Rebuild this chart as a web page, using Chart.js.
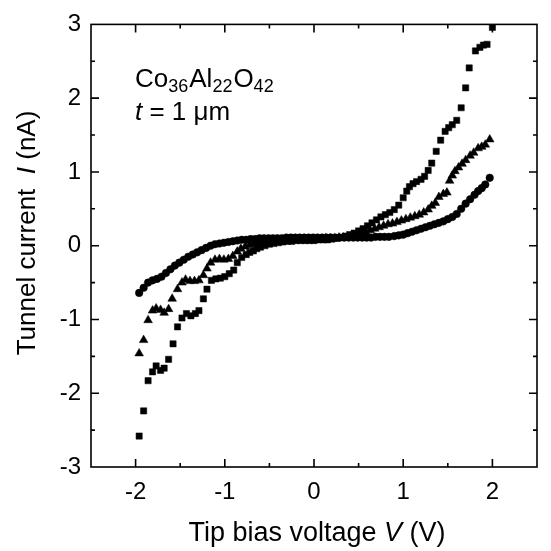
<!DOCTYPE html>
<html><head><meta charset="utf-8">
<script src="https://cdn.jsdelivr.net/npm/chart.js@4/dist/chart.umd.min.js"></script>
<style>html,body{margin:0;padding:0;background:#fff}#wrap{width:551px;height:551px;position:relative}</style>
</head><body><div id="wrap"><canvas id="c" width="551" height="551"></canvas></div>
<script>
// Tick values
const xTicks = [-2, -1, 0, 1, 2];
const yTicks = [-3, -2, -1, 0, 1, 2, 3];

// Series 1: squares
const sqV = [-1.96,-1.91,-1.86,-1.81,-1.77,-1.72,-1.68,-1.63,-1.58,-1.53,-1.48,-1.43,-1.38,-1.33,-1.29,-1.24,-1.20,-1.15,-1.10,-1.05,-1.00,-0.95,-0.90,-0.86,-0.81,-0.76,-0.72,-0.68,-0.64,-0.60,-0.55,-0.50,-0.45,-0.40,-0.35,-0.30,-0.25,-0.20,-0.15,-0.10,-0.05,0.00,0.05,0.10,0.15,0.20,0.25,0.30,0.35,0.40,0.45,0.50,0.55,0.60,0.65,0.70,0.75,0.80,0.85,0.90,0.95,1.00,1.04,1.07,1.11,1.15,1.20,1.24,1.28,1.32,1.37,1.42,1.47,1.51,1.55,1.60,1.65,1.70,1.74,1.81,1.86,1.90,1.94,2.00];
const sqI = [-2.58,-2.24,-1.83,-1.71,-1.63,-1.69,-1.66,-1.54,-1.33,-1.10,-0.98,-0.92,-0.95,-0.92,-0.88,-0.72,-0.59,-0.47,-0.45,-0.44,-0.42,-0.38,-0.33,-0.23,-0.16,-0.12,-0.09,-0.07,-0.04,-0.02,0.00,0.02,0.03,0.04,0.05,0.06,0.06,0.07,0.07,0.07,0.07,0.07,0.08,0.08,0.08,0.09,0.10,0.11,0.13,0.15,0.17,0.20,0.23,0.27,0.31,0.35,0.39,0.42,0.45,0.49,0.55,0.65,0.74,0.80,0.84,0.87,0.90,0.94,1.02,1.12,1.28,1.43,1.55,1.60,1.64,1.70,1.87,2.14,2.41,2.64,2.69,2.72,2.73,2.96];

// Series 2: triangles
const trV = [-1.96,-1.91,-1.86,-1.81,-1.77,-1.72,-1.68,-1.63,-1.59,-1.53,-1.48,-1.44,-1.39,-1.34,-1.29,-1.24,-1.20,-1.16,-1.11,-1.06,-1.01,-0.96,-0.91,-0.86,-0.82,-0.77,-0.72,-0.67,-0.62,-0.57,-0.52,-0.47,-0.42,-0.37,-0.32,-0.27,-0.22,-0.17,-0.12,-0.07,-0.02,0.03,0.08,0.13,0.18,0.23,0.28,0.33,0.38,0.43,0.48,0.53,0.58,0.63,0.68,0.73,0.78,0.83,0.88,0.93,0.98,1.03,1.08,1.13,1.18,1.23,1.28,1.32,1.36,1.40,1.45,1.49,1.52,1.55,1.58,1.62,1.66,1.70,1.75,1.79,1.84,1.88,1.92,1.97];
const trI = [-1.46,-1.28,-1.01,-0.88,-0.85,-0.87,-0.91,-0.86,-0.72,-0.59,-0.50,-0.46,-0.48,-0.48,-0.47,-0.40,-0.31,-0.23,-0.19,-0.18,-0.19,-0.18,-0.14,-0.08,-0.04,-0.01,0.01,0.03,0.04,0.05,0.06,0.07,0.08,0.08,0.09,0.09,0.09,0.09,0.09,0.09,0.09,0.09,0.09,0.10,0.10,0.10,0.11,0.11,0.12,0.13,0.15,0.17,0.19,0.21,0.23,0.25,0.27,0.29,0.30,0.32,0.34,0.36,0.38,0.40,0.42,0.45,0.49,0.54,0.58,0.66,0.70,0.72,0.88,0.95,1.01,1.06,1.11,1.16,1.22,1.26,1.32,1.34,1.37,1.44];

// Series 3: circles
const ciV = [-1.96,-1.91,-1.86,-1.81,-1.76,-1.71,-1.66,-1.61,-1.56,-1.51,-1.46,-1.41,-1.36,-1.31,-1.26,-1.21,-1.16,-1.11,-1.06,-1.01,-0.96,-0.91,-0.86,-0.81,-0.76,-0.71,-0.66,-0.61,-0.56,-0.51,-0.46,-0.41,-0.36,-0.31,-0.26,-0.21,-0.16,-0.11,-0.06,-0.01,0.04,0.09,0.14,0.19,0.24,0.29,0.34,0.39,0.44,0.49,0.54,0.59,0.64,0.69,0.74,0.79,0.84,0.90,0.95,1.00,1.05,1.10,1.15,1.20,1.25,1.30,1.35,1.40,1.45,1.50,1.55,1.60,1.65,1.70,1.75,1.80,1.84,1.88,1.92,1.97];
const ciI = [-0.64,-0.57,-0.50,-0.47,-0.45,-0.42,-0.37,-0.32,-0.27,-0.23,-0.19,-0.15,-0.12,-0.09,-0.06,-0.03,0.00,0.02,0.03,0.04,0.05,0.06,0.07,0.08,0.08,0.09,0.09,0.10,0.10,0.10,0.10,0.10,0.10,0.11,0.11,0.11,0.11,0.11,0.11,0.11,0.11,0.11,0.11,0.11,0.11,0.11,0.11,0.11,0.11,0.11,0.11,0.11,0.11,0.12,0.12,0.12,0.12,0.13,0.14,0.15,0.17,0.19,0.21,0.23,0.25,0.27,0.29,0.31,0.33,0.36,0.39,0.43,0.50,0.57,0.63,0.69,0.74,0.78,0.83,0.92];

const FONT = '"Liberation Sans", Arial, Helvetica, sans-serif';
const pts = (vs, is) => vs.map((v, k) => ({x: v, y: is[k]}));
const mids = arr => arr.slice(1).map((v, k) => (v + arr[k]) / 2);

function drawMixed(ctx, parts, x, y, align) {
  let w = 0;
  parts.forEach(p => { ctx.font = p.f; w += ctx.measureText(p.t).width + (p.gap || 0); });
  let cx = align === 'center' ? x - w / 2 : x;
  parts.forEach(p => {
    ctx.font = p.f;
    ctx.fillText(p.t, cx, y + (p.dy || 0));
    cx += ctx.measureText(p.t).width + (p.gap || 0);
  });
}

const decor = {
  id: 'decor',
  afterDraw(chart) {
    const {ctx, chartArea: a, scales: {x, y}} = chart;
    ctx.save();
    ctx.strokeStyle = '#000';
    ctx.lineWidth = 1.6;
    ctx.strokeRect(a.left, a.top, a.right - a.left, a.bottom - a.top);
    const xMinor = mids(xTicks).concat([xTicks[0] - 0.5, xTicks[xTicks.length - 1] + 0.5]);
    const yMinor = mids(yTicks);
    ctx.beginPath();
    const tx = (vals, len) => vals.forEach(v => {
      const p = x.getPixelForValue(v);
      if (p <= a.left + 1 || p >= a.right - 1) return;
      ctx.moveTo(p, a.bottom); ctx.lineTo(p, a.bottom - len);
      ctx.moveTo(p, a.top); ctx.lineTo(p, a.top + len);
    });
    const ty = (vals, len) => vals.forEach(v => {
      const p = y.getPixelForValue(v);
      if (p <= a.top + 1 || p >= a.bottom - 1) return;
      ctx.moveTo(a.left, p); ctx.lineTo(a.left + len, p);
      ctx.moveTo(a.right, p); ctx.lineTo(a.right - len, p);
    });
    tx(xTicks, 8); tx(xMinor, 4); ty(yTicks, 8); ty(yMinor, 4);
    ctx.stroke();

    ctx.fillStyle = '#000';
    ctx.textBaseline = 'alphabetic';
    ctx.textAlign = 'left';
    // x-axis title
    const fX = '27px ' + FONT, fXI = 'italic 27px ' + FONT;
    drawMixed(ctx, [{t: 'Tip bias voltage ', f: fX}, {t: 'V', f: fXI}, {t: ' (V)', f: fX}], (a.left + a.right) / 2 + 3, 541, 'center');
    // y-axis title
    const fT = '26px ' + FONT, fI = 'italic 26px ' + FONT;
    ctx.save();
    ctx.translate(35, 233);
    ctx.rotate(-Math.PI / 2);
    drawMixed(ctx, [{t: 'Tunnel current  ', f: fT}, {t: 'I', f: fI}, {t: ' (nA)', f: fT}], 0, 0, 'center');
    ctx.restore();
    // annotation
    const fA = '26px ' + FONT, fS = '18px ' + FONT, fAI = 'italic 26px ' + FONT;
    drawMixed(ctx, [{t: 'Co', f: fA}, {t: '36', f: fS, dy: 5, gap: 1}, {t: 'Al', f: fA}, {t: '22', f: fS, dy: 5, gap: 1}, {t: 'O', f: fA}, {t: '42', f: fS, dy: 5}], a.left + 44, 87, 'left');
    drawMixed(ctx, [{t: 't', f: fAI}, {t: ' = 1 \u03bcm', f: fA}], a.left + 44, 120, 'left');
    ctx.restore();
  }
};

const ds = (label, vs, is, style, r) => ({
  label, data: pts(vs, is), pointStyle: style, pointRadius: r,
  backgroundColor: '#000', borderColor: '#000', borderWidth: 0.5, showLine: false
});

new Chart(document.getElementById('c'), {
  type: 'scatter',
  data: {datasets: [
    ds('squares', sqV, sqI, 'rect', 4.4),
    ds('triangles', trV, trI, 'triangle', 5),
    ds('circles', ciV, ciI, 'circle', 3.8)
  ]},
  options: {
    responsive: false, animation: false,
    layout: {padding: {top: 20, right: 14, left: 0, bottom: 0}},
    plugins: {legend: {display: false}, tooltip: {enabled: false}},
    scales: {
      x: {
        type: 'linear', min: -2.5, max: 2.5,
        afterFit: s => { s.height = 84; },
        afterBuildTicks: s => { s.ticks = xTicks.map(v => ({value: v})); },
        grid: {display: false, drawTicks: false}, border: {display: false},
        ticks: {padding: 11, color: '#000', font: {family: FONT, size: 24}}
      },
      y: {
        type: 'linear', min: -3, max: 3,
        afterFit: s => { s.width = 91; },
        afterBuildTicks: s => { s.ticks = yTicks.map(v => ({value: v})); },
        grid: {display: false, drawTicks: false}, border: {display: false},
        ticks: {padding: 10, color: '#000', font: {family: FONT, size: 24}}
      }
    }
  },
  plugins: [decor]
});
</script></body></html>
